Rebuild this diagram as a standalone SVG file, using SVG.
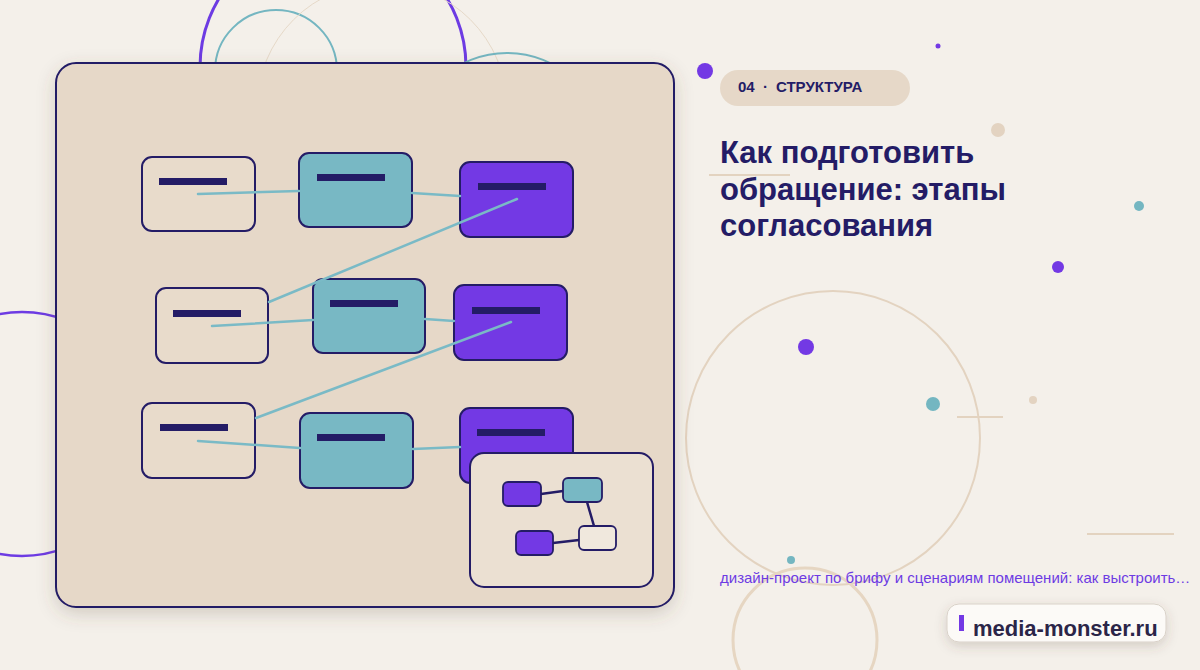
<svg xmlns="http://www.w3.org/2000/svg" width="1200" height="670" viewBox="0 0 1200 670">
<defs>
<filter id="sh" x="-10%" y="-10%" width="120%" height="125%"><feDropShadow dx="0" dy="6" stdDeviation="9" flood-color="#5a4a3a" flood-opacity="0.22"/></filter>
<filter id="sh2" x="-10%" y="-20%" width="120%" height="160%"><feDropShadow dx="0" dy="4" stdDeviation="6" flood-color="#5a4a3a" flood-opacity="0.2"/></filter>
<style>
.deco{fill:none}
.pu{stroke:#6d3be3;stroke-width:3}
.te{stroke:#74b6c1;stroke-width:2}
.be{stroke:#e3d3c0;stroke-width:2}
.nd{stroke:#241c66;stroke-width:2}
.a{fill:#e8dbcb}
.b{fill:#78b8c4}
.c{fill:#7339e4}
.bar{fill:#241c66}
.cn{stroke:#7abac6;stroke-width:2.5;fill:none;stroke-linecap:round}
.mc{stroke:#241c66;stroke-width:2.5;fill:none}
.t{font-family:"Liberation Sans",Arial,sans-serif}
</style>
</defs>
<rect width="1200" height="670" fill="#f4f0ea"/>
<g id="decor">
<circle class="deco pu" cx="333" cy="67" r="133"/>
<circle class="deco te" cx="276" cy="71" r="61"/>
<circle class="deco" stroke="#e6d9c8" stroke-width="1" cx="382" cy="108" r="125"/>
<circle class="deco te" cx="507" cy="151" r="98"/>
<circle class="deco" stroke="#6d3be3" stroke-width="2.5" cx="22" cy="434" r="122"/>
<circle class="deco be" cx="833" cy="438" r="147"/>
<circle class="deco" stroke="#e6d6c2" stroke-width="3" cx="805" cy="640" r="72"/>
<circle cx="705" cy="71" r="8" fill="#7339e4"/>
<circle cx="938" cy="46" r="2.5" fill="#7339e4"/>
<circle cx="998" cy="130" r="7" fill="#e3d3c1"/>
<circle cx="1139" cy="206" r="5" fill="#74b6c1"/>
<circle cx="1058" cy="267" r="6" fill="#7339e4"/>
<circle cx="806" cy="347" r="8" fill="#7339e4"/>
<circle cx="933" cy="404" r="7" fill="#74b6c1"/>
<circle cx="1033" cy="400" r="4" fill="#e3d3c1"/>
<circle cx="791" cy="560" r="4" fill="#74b6c1"/>
<line x1="709" y1="175" x2="790" y2="175" class="be"/>
<line x1="957" y1="417" x2="1003" y2="417" class="be"/>
<line x1="1087" y1="534" x2="1174" y2="534" class="be" stroke-width="1.5"/>
</g>
<g id="panel">
<rect x="56" y="63" width="618" height="544" rx="20" fill="#e6d8c8" stroke="#241c66" stroke-width="2" filter="url(#sh)"/>
</g>
<g id="nodes">
<g id="a1"><rect class="a nd" x="142" y="157" width="113" height="74" rx="10"/><rect class="bar" x="159" y="178" width="68" height="7"/></g>
<g id="b1"><rect class="b nd" x="299" y="153" width="113" height="74" rx="10"/><rect class="bar" x="317" y="174" width="68" height="7"/></g>
<g id="c1"><rect class="c nd" x="460" y="162" width="113" height="75" rx="10"/><rect class="bar" x="478" y="183" width="68" height="7"/></g>
<g id="a2"><rect class="a nd" x="156" y="288" width="112" height="75" rx="10"/><rect class="bar" x="173" y="310" width="68" height="7"/></g>
<g id="b2"><rect class="b nd" x="313" y="279" width="112" height="74" rx="10"/><rect class="bar" x="330" y="300" width="68" height="7"/></g>
<g id="c2"><rect class="c nd" x="454" y="285" width="113" height="75" rx="10"/><rect class="bar" x="472" y="307" width="68" height="7"/></g>
<g id="a3"><rect class="a nd" x="142" y="403" width="113" height="75" rx="10"/><rect class="bar" x="160" y="424" width="68" height="7"/></g>
<g id="b3"><rect class="b nd" x="300" y="413" width="113" height="75" rx="10"/><rect class="bar" x="317" y="434" width="68" height="7"/></g>
<g id="c3"><rect class="c nd" x="460" y="408" width="113" height="75" rx="10"/><rect class="bar" x="477" y="429" width="68" height="7"/></g>
</g>
<g id="connectors">
<line class="cn" x1="198" y1="194" x2="299" y2="191"/>
<line class="cn" x1="412" y1="193" x2="460" y2="196"/>
<line class="cn" x1="517" y1="199" x2="269" y2="302"/>
<line class="cn" x1="212" y1="326" x2="313" y2="320"/>
<line class="cn" x1="425" y1="319" x2="454" y2="321"/>
<line class="cn" x1="511" y1="322" x2="256" y2="418"/>
<line class="cn" x1="198" y1="441" x2="300" y2="448"/>
<line class="cn" x1="413" y1="449" x2="460" y2="447"/>
</g>
<g id="inset">
<rect x="470" y="453" width="183" height="134" rx="14" fill="#ebe0d2" stroke="#241c66" stroke-width="2"/>
<g id="mini-connectors">
<line class="mc" x1="541" y1="494" x2="563" y2="491"/>
<line class="mc" x1="587" y1="502" x2="594" y2="526"/>
<line class="mc" x1="553" y1="543" x2="579" y2="540"/>
</g>
<g id="m1"><rect x="503" y="482" width="38" height="24" rx="5" fill="#7339e4" stroke="#241c66" stroke-width="1.8"/></g>
<g id="m2"><rect x="563" y="478" width="39" height="24" rx="5" fill="#78b8c4" stroke="#241c66" stroke-width="1.8"/></g>
<g id="m3"><rect x="516" y="531" width="37" height="24" rx="5" fill="#7339e4" stroke="#241c66" stroke-width="1.8"/></g>
<g id="m4"><rect x="579" y="526" width="37" height="24" rx="5" fill="#f0e8dd" stroke="#241c66" stroke-width="1.8"/></g>
</g>
<g id="badge" class="t" font-size="15" font-weight="bold" fill="#241c66">
<rect x="720" y="70" width="190" height="36" rx="18" fill="#e6d8c8"/>
<text x="738" y="92">04</text>
<text x="763" y="92">·</text>
<text x="776" y="92">СТРУКТУРА</text>
</g>
<g id="title" class="t" font-size="31" font-weight="bold" fill="#241c66">
<text x="720" y="163">Как подготовить</text>
<text x="720" y="200">обращение: этапы</text>
<text x="720" y="236">согласования</text>
</g>
<text class="t" x="720" y="583" font-size="15" fill="#6d3be3">дизайн-проект по брифу и сценариям помещений: как выстроить…</text>
<g id="footer">
<rect x="947" y="604" width="219" height="38" rx="12" fill="#fcfaf7" stroke="#d9d1c8" stroke-width="1" filter="url(#sh2)"/>
<rect x="959" y="615" width="5" height="16" fill="#7339e4"/>
<text class="t" x="973" y="636" font-size="22" font-weight="bold" fill="#2b2548">media-monster.ru</text>
</g>
</svg>
